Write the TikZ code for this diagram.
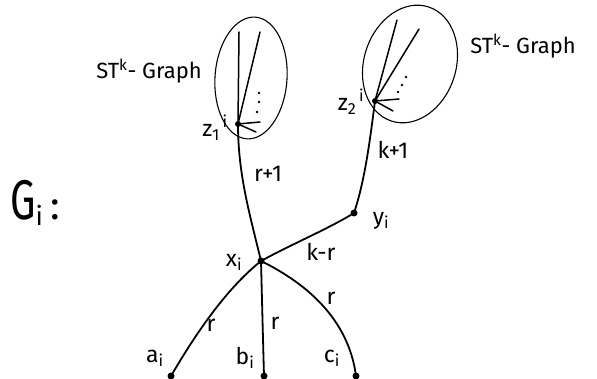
\documentclass[tikz,border=0pt]{standalone}
\usepackage{fontspec}
\setmainfont{Fira Sans}
\usetikzlibrary{shapes.geometric}
\tikzset{
  edge/.style={line width=1.8pt, line cap=round},
  thin edge/.style={line width=1.5pt, line cap=round},
  vert/.style={circle, fill=black, inner sep=0pt, minimum size=7pt},
  blob/.style={draw, ellipse, line width=1.1pt, inner sep=0pt},
  lbl/.style={font=\fontsize{23}{24}\selectfont, inner sep=1pt},
  dot/.style={circle, fill=black, inner sep=0pt, minimum size=2.6pt}
}
\begin{document}
\begin{tikzpicture}[x=1pt,y=-1pt]
\useasboundingbox (0,0) rectangle (597,379);
% ellipses
\node[blob, minimum width=72pt, minimum height=122pt, rotate=-4] (e1) at (251,78) {};
\node[blob, minimum width=92pt, minimum height=120pt, rotate=-18] (e2) at (410,64) {};
% vertices
\node[vert] (x) at (261,261) {};
\node[vert] (y) at (354,213) {};
\node[vert, minimum size=6pt] (z1) at (238,124) {};
\node[vert, minimum size=6pt] (z2) at (375,101) {};
\node[vert] (a) at (171,376) {};
\node[vert] (b) at (264,376) {};
\node[vert] (c) at (356,376) {};
% tree 1 ends
\coordinate (t11) at (239,32);
\coordinate (t12) at (260,32);
\coordinate (t13) at (260,122);
\coordinate (t14) at (256,132);
\draw[thin edge] (z1.center) -- (t11);
\draw[thin edge] (z1.center) -- (t12);
\draw[thin edge] (z1.center) -- (t13);
\draw[thin edge] (z1.center) -- (t14);
\node[dot] (d11) at (259,93) {};
\node[dot] (d12) at (259,102) {};
\node[dot] (d13) at (257,112) {};
% tree 2 ends
\coordinate (t21) at (397,20);
\coordinate (t22) at (419,29);
\coordinate (t23) at (399,99);
\coordinate (t24) at (393,111);
\draw[thin edge] (z2.center) -- (t21);
\draw[thin edge] (z2.center) -- (t22);
\draw[thin edge] (z2.center) -- (t23);
\draw[thin edge] (z2.center) -- (t24);
\node[dot] (d21) at (406,77) {};
\node[dot] (d22) at (402,85) {};
\node[dot] (d23) at (398,92) {};
% edges
\draw[edge] (x.center) .. controls (250,215) and (238,175) .. (z1.center);
\draw[edge] (x.center) .. controls (225,290) and (195,335) .. (a.center);
\draw[edge] (x.center) .. controls (262,300) and (263,340) .. (b.center);
\draw[edge] (x.center) .. controls (320,290) and (350,330) .. (c.center);
\draw[edge] (x.center) .. controls (290,245) and (330,228) .. (y.center);
\draw[edge] (y.center) .. controls (365,180) and (370,140) .. (z2.center);
% labels
\node[font=\fontsize{22}{24}\selectfont, inner sep=0pt] (s1) at (149,71) {ST\textsuperscript{k}- Graph};
\node[font=\fontsize{22}{24}\selectfont, inner sep=0pt] (s2) at (523,46) {ST\textsuperscript{k}- Graph};
\node[lbl] (lz1) at (215,128) {z\textsubscript{1}\textsuperscript{\,i}};
\node[lbl] (lz2) at (351,102) {z\textsubscript{2}\textsuperscript{\,i}};
\node[lbl] (le1) at (268,174) {r+1};
\node[lbl] (le2) at (393,150) {k+1};
\node[lbl] (ly) at (381,221) {y\textsubscript{i}};
\node[lbl] (lx) at (234,262) {x\textsubscript{i}};
\node[lbl] (lky) at (321,252) {k-r};
\node[lbl] (lra) at (211,325) {r};
\node[lbl] (lrb) at (275,323) {r};
\node[lbl] (lrc) at (331,298) {r};
\node[lbl] (la) at (155,358) {a\textsubscript{i}};
\node[lbl] (lb) at (245,358) {b\textsubscript{i}};
\node[lbl] (lc) at (332,358) {c\textsubscript{i}};
\node[inner sep=0pt, anchor=west] (g) at (10,203) {\scalebox{0.72}[1]{\fontsize{56}{56}\selectfont G}\raisebox{-6pt}{\fontsize{26}{26}\selectfont i}\hspace{8pt}{\fontsize{40}{40}\selectfont :}};
\end{tikzpicture}
\end{document}
